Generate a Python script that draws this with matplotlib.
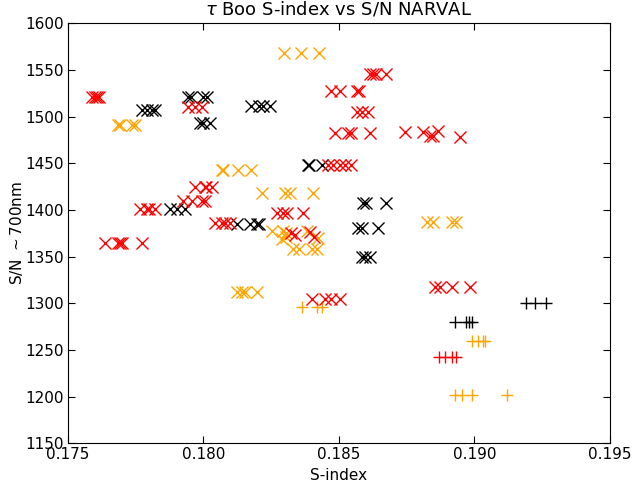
import matplotlib
matplotlib.use("Agg")
import matplotlib.pyplot as plt

# red crosses
red_x_s = [0.17590, 0.17601, 0.17608, 0.17615,
           0.17638, 0.17686, 0.17695, 0.17702, 0.17773,
           0.17767, 0.17791, 0.17801, 0.17822,
           0.17945, 0.17969, 0.17994,
           0.17969, 0.18006, 0.18012, 0.18031,
           0.17926, 0.17957, 0.17994, 0.18006,
           0.18043, 0.18068, 0.18080, 0.18098,
           0.18615, 0.18627, 0.18639, 0.18676,
           0.18473, 0.18504, 0.18566, 0.18575,
           0.18566, 0.18584, 0.18608,
           0.18486, 0.18535, 0.18547, 0.18615,
           0.18744, 0.18810, 0.18836, 0.18847, 0.18866, 0.18947,
           0.18461, 0.18479, 0.18504, 0.18522, 0.18547,
           0.18271, 0.18295, 0.18310, 0.18367,
           0.18323, 0.18338, 0.18393, 0.18408,
           0.18854, 0.18873, 0.18916, 0.18983,
           0.18400, 0.18449, 0.18473, 0.18504]
red_x_sn = [1521, 1521, 1521, 1521,
            1365, 1365, 1365, 1365, 1365,
            1401, 1401, 1401, 1401,
            1510, 1510, 1510,
            1425, 1425, 1425, 1425,
            1410, 1410, 1410, 1410,
            1386, 1386, 1386, 1386,
            1546, 1546, 1546, 1546,
            1527, 1527, 1527, 1527,
            1505, 1505, 1505,
            1483, 1483, 1483, 1483,
            1484, 1484, 1479, 1479, 1485, 1478,
            1448, 1448, 1448, 1448, 1448,
            1397, 1397, 1397, 1397,
            1375, 1373, 1376, 1371,
            1318, 1318, 1318, 1318,
            1305, 1305, 1305, 1305]
red_p_s = [0.18870, 0.18891, 0.18916, 0.18934]
red_p_sn = [1243, 1243, 1243, 1243]

# black crosses
black_x_s = [0.17945, 0.17954, 0.18000, 0.18013,
             0.17773, 0.17791, 0.17810, 0.17822,
             0.17988, 0.18000, 0.18025,
             0.18178, 0.18205, 0.18221, 0.18246,
             0.18387, 0.18392, 0.18440,
             0.18590, 0.18600, 0.18676,
             0.18572, 0.18584, 0.18645,
             0.18584, 0.18596, 0.18615,
             0.17877, 0.17902, 0.17933,
             0.18123, 0.18172, 0.18197, 0.18207]
black_x_sn = [1521, 1521, 1521, 1521,
              1507, 1507, 1507, 1507,
              1493, 1493, 1493,
              1511, 1511, 1511, 1511,
              1448, 1448, 1448,
              1408, 1408, 1408,
              1381, 1381, 1381,
              1350, 1350, 1350,
              1401, 1401, 1401,
              1385, 1385, 1385, 1385]
black_p_s = [0.19190, 0.19223, 0.19266, 0.18928, 0.18971, 0.18981, 0.18993]
black_p_sn = [1300, 1300, 1300, 1280, 1280, 1280, 1280]

# orange crosses
orange_x_s = [0.18298, 0.18359, 0.18427,
              0.17687, 0.17693, 0.17736, 0.17748,
              0.18068, 0.18074, 0.18129, 0.18178,
              0.18216, 0.18301, 0.18320, 0.18404,
              0.18824, 0.18848, 0.18916, 0.18934,
              0.18254, 0.18294, 0.18305, 0.18290, 0.18305, 0.18382, 0.18423,
              0.18332, 0.18354, 0.18400, 0.18418,
              0.18123, 0.18142, 0.18154, 0.18197]
orange_x_sn = [1568, 1568, 1568,
               1491, 1491, 1491, 1491,
               1443, 1443, 1443, 1443,
               1418, 1418, 1418, 1418,
               1387, 1387, 1387, 1387,
               1378, 1378, 1375, 1369, 1371, 1378, 1370,
               1358, 1358, 1358, 1358,
               1312, 1312, 1312, 1312]
orange_p_s = [0.18363, 0.18418, 0.18437,
              0.18990, 0.19014, 0.19032, 0.19039,
              0.18928, 0.18953, 0.18990, 0.19121]
orange_p_sn = [1296, 1296, 1296,
               1260, 1260, 1260, 1260,
               1202, 1202, 1202, 1202]

fig = plt.figure(figsize=(6.32, 4.87), dpi=100)
ax = fig.add_axes([0.107, 0.0897, 0.858, 0.8624])

ms = 75
lw = 1.0
ax.scatter(orange_x_s, orange_x_sn, marker='x', s=ms, c='orange', linewidths=lw)
ax.scatter(orange_p_s, orange_p_sn, marker='+', s=ms, c='orange', linewidths=lw)
ax.scatter(black_x_s, black_x_sn, marker='x', s=ms, c='black', linewidths=lw)
ax.scatter(black_p_s, black_p_sn, marker='+', s=ms, c='black', linewidths=lw)
ax.scatter(red_x_s, red_x_sn, marker='x', s=ms, c='red', linewidths=lw)
ax.scatter(red_p_s, red_p_sn, marker='+', s=ms, c='red', linewidths=lw)

ax.set_xlim(0.175, 0.195)
ax.set_ylim(1150, 1600)
ax.set_xticks([0.175, 0.180, 0.185, 0.190, 0.195])
ax.set_xticklabels(['0.175', '0.180', '0.185', '0.190', '0.195'])
ax.set_yticks(range(1150, 1601, 50))
ax.tick_params(direction='in', top=True, right=True, labelsize=11, length=5, pad=3)
ax.set_xlabel('S-index', fontsize=11, labelpad=4)
ax.set_ylabel(r'S/N $\sim$700nm', fontsize=11, labelpad=0)
ax.set_title(r'$\tau$ Boo S-index vs S/N NARVAL', fontsize=13)

fig.savefig('out.png', dpi=100)
